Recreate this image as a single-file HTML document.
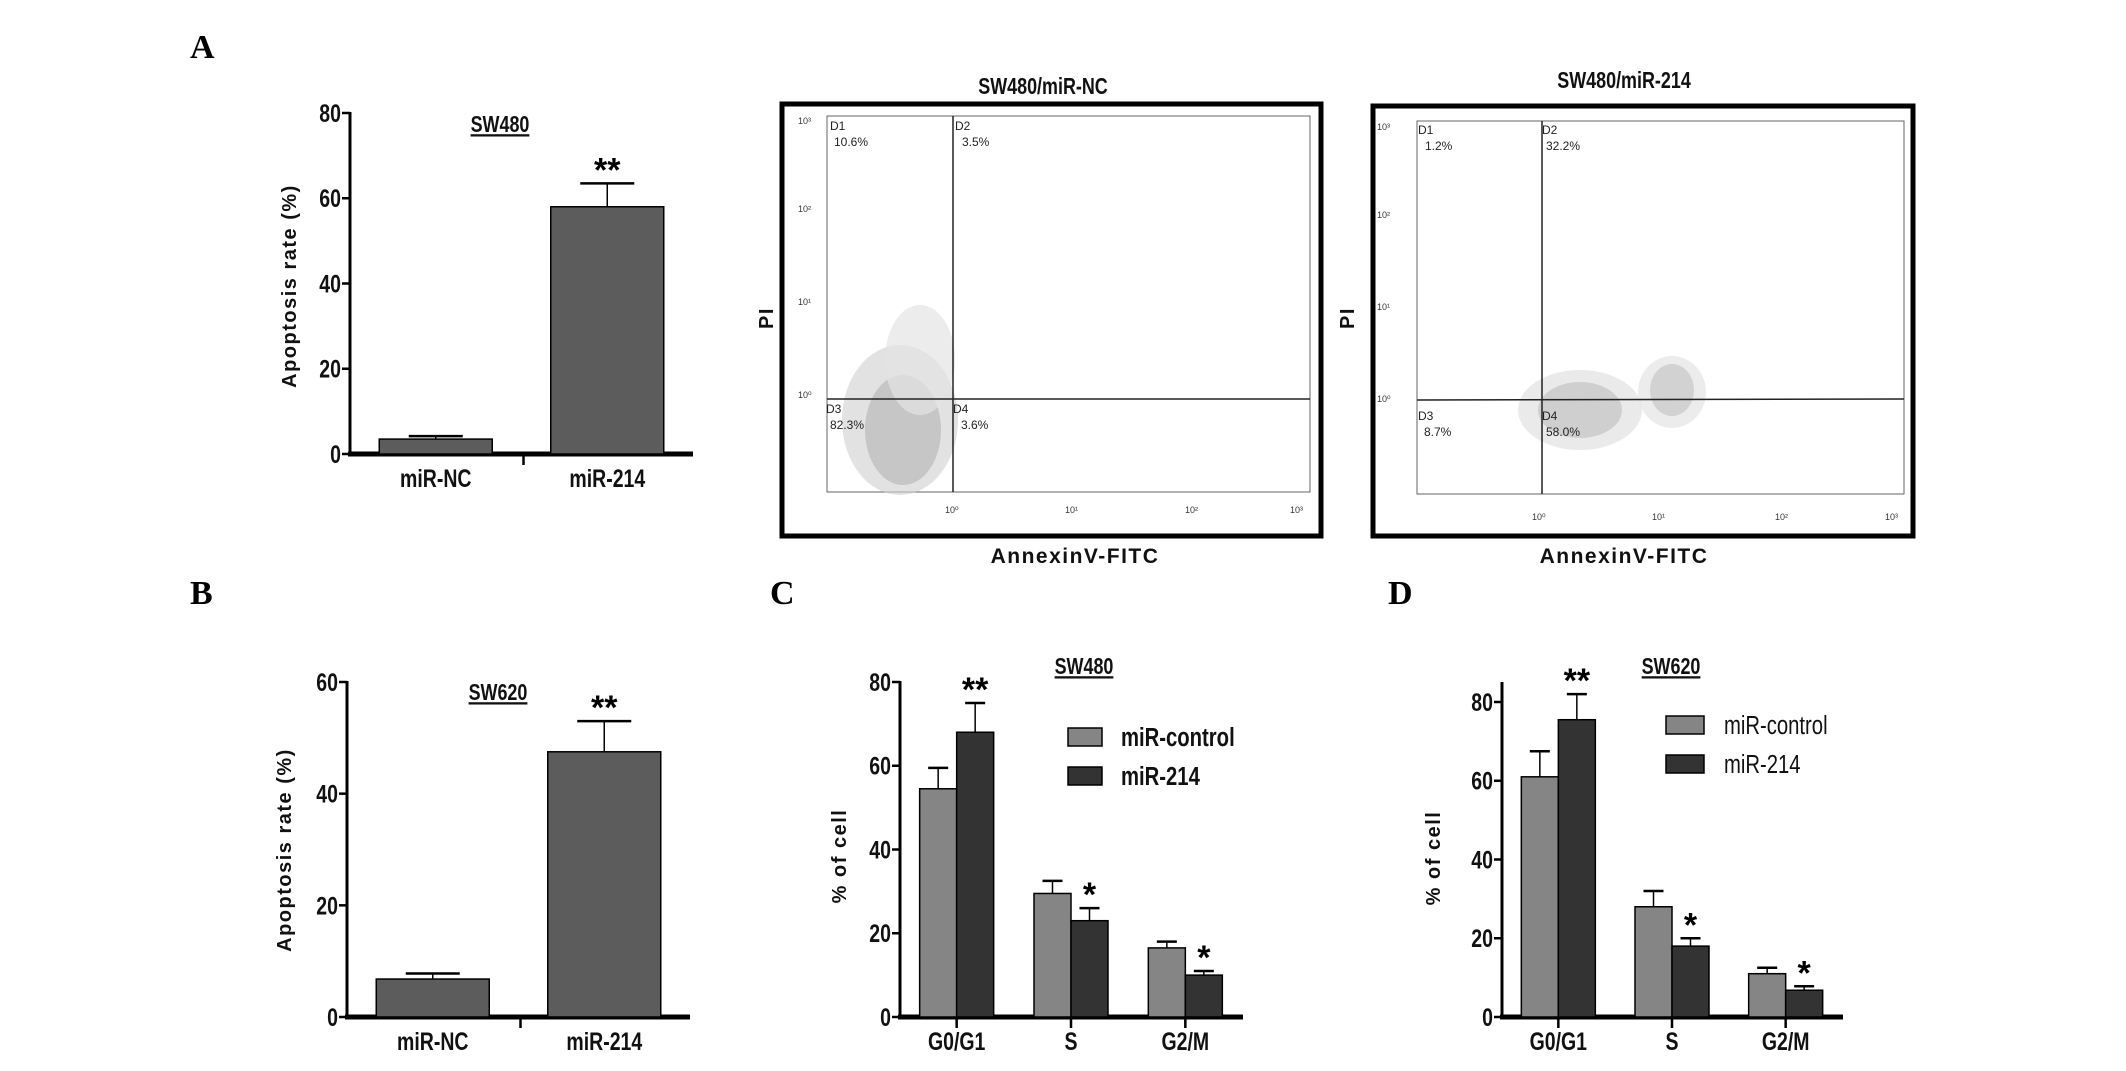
<!DOCTYPE html>
<html><head><meta charset="utf-8"><style>
body{margin:0;background:#fff}
svg{display:block}
.tk{font-family:"Liberation Sans Narrow","Liberation Sans",sans-serif;font-weight:bold;font-size:25px;fill:#111;transform-box:fill-box;transform-origin:center;transform:scaleX(0.78)}
.tkr{transform-origin:right center}
.tkl{transform-origin:left center}
.yl{font-family:"Liberation Sans",sans-serif;font-weight:bold;font-size:20px;letter-spacing:1.5px;fill:#111}
.pl{font-family:"Liberation Serif",serif;font-weight:bold;font-size:34px;fill:#000}
.ttl{font-family:"Liberation Sans",sans-serif;font-weight:bold;font-size:23px;fill:#111;text-decoration:underline;transform-box:fill-box;transform-origin:center;transform:scaleX(0.78)}
.ft{font-family:"Liberation Sans",sans-serif;font-size:12px;fill:#222}
.fs{font-family:"Liberation Sans",sans-serif;font-size:9px;fill:#333}
</style></head><body>
<svg id="fig" width="2126" height="1071" viewBox="0 0 2126 1071" xmlns="http://www.w3.org/2000/svg">
<text class="pl" x="190" y="58">A</text>
<text class="pl" x="190" y="604">B</text>
<text class="pl" x="770" y="604">C</text>
<text class="pl" x="1388" y="604">D</text>

<g>
<text class="tk" x="1043" y="94" text-anchor="middle" style="font-size:23px">SW480/miR-NC</text>
<rect x="782" y="104" width="539" height="432" fill="none" stroke="#000" stroke-width="5"/>
<rect x="827" y="116" width="483" height="376" fill="none" stroke="#666" stroke-width="1"/>
<ellipse cx="903" cy="430" rx="38" ry="55" fill="#b0b0b0" opacity="0.9"/>
<ellipse cx="900" cy="420" rx="58" ry="75" fill="#cfcfcf" opacity="0.6"/>
<ellipse cx="920" cy="360" rx="35" ry="55" fill="#e4e4e4" opacity="0.7"/>
<line x1="953" y1="116" x2="953" y2="492" stroke="#222" stroke-width="1.5"/>
<line x1="827" y1="399" x2="1310" y2="399" stroke="#222" stroke-width="1.5"/>
<text class="ft" x="830" y="130">D1</text><text class="ft" x="834" y="146">10.6%</text>
<text class="ft" x="955" y="130">D2</text><text class="ft" x="962" y="146">3.5%</text>
<text class="ft" x="826" y="413">D3</text><text class="ft" x="830" y="429">82.3%</text>
<text class="ft" x="953" y="413">D4</text><text class="ft" x="961" y="429">3.6%</text>
<text class="fs" x="798" y="124">10³</text><text class="fs" x="798" y="212">10²</text><text class="fs" x="798" y="305">10¹</text><text class="fs" x="798" y="398">10⁰</text>
<text class="fs" x="945" y="513">10⁰</text><text class="fs" x="1065" y="513">10¹</text><text class="fs" x="1185" y="513">10²</text><text class="fs" x="1290" y="513">10³</text>
<text class="yl" transform="translate(773,318) rotate(-90)" text-anchor="middle" style="font-size:20px">PI</text>
<text class="yl" x="1075" y="563" text-anchor="middle" style="font-size:21px">AnnexinV-FITC</text>
</g>
<g>
<text class="tk" x="1624" y="88" text-anchor="middle" style="font-size:23px">SW480/miR-214</text>
<rect x="1373" y="106" width="540" height="430" fill="none" stroke="#000" stroke-width="5"/>
<rect x="1417" y="121" width="487" height="373" fill="none" stroke="#666" stroke-width="1"/>
<ellipse cx="1580" cy="410" rx="42" ry="28" fill="#b5b5b5" opacity="0.9"/>
<ellipse cx="1580" cy="410" rx="62" ry="40" fill="#dcdcdc" opacity="0.6"/>
<ellipse cx="1672" cy="390" rx="22" ry="26" fill="#b8b8b8" opacity="0.9"/>
<ellipse cx="1672" cy="392" rx="34" ry="36" fill="#e0e0e0" opacity="0.6"/>
<line x1="1542" y1="121" x2="1542" y2="494" stroke="#222" stroke-width="1.5"/>
<line x1="1417" y1="400" x2="1904" y2="399" stroke="#222" stroke-width="1.5"/>
<text class="ft" x="1418" y="134">D1</text><text class="ft" x="1425" y="150">1.2%</text>
<text class="ft" x="1542" y="134">D2</text><text class="ft" x="1546" y="150">32.2%</text>
<text class="ft" x="1418" y="420">D3</text><text class="ft" x="1424" y="436">8.7%</text>
<text class="ft" x="1542" y="420">D4</text><text class="ft" x="1546" y="436">58.0%</text>
<text class="fs" x="1377" y="130">10³</text><text class="fs" x="1377" y="218">10²</text><text class="fs" x="1377" y="310">10¹</text><text class="fs" x="1377" y="402">10⁰</text>
<text class="fs" x="1532" y="520">10⁰</text><text class="fs" x="1652" y="520">10¹</text><text class="fs" x="1775" y="520">10²</text><text class="fs" x="1885" y="520">10³</text>
<text class="yl" transform="translate(1354,318) rotate(-90)" text-anchor="middle" style="font-size:20px">PI</text>
<text class="yl" x="1624" y="563" text-anchor="middle" style="font-size:21px">AnnexinV-FITC</text>
</g>
</svg>
<script>
// Panel A data
const aCats = ['miR-NC', 'miR-214'];
const aVals = [3.5, 58];
const aErr = [0.7, 5.5];
const aTicks = [0, 20, 40, 60, 80];
// Panel B data
const bCats = ['miR-NC', 'miR-214'];
const bVals = [6.8, 47.5];
const bErr = [1.0, 5.5];
const bTicks = [0, 20, 40, 60];
// Panel C data
const cCats = ['G0/G1', 'S', 'G2/M'];
const cCtrl = [54.5, 29.5, 16.5];
const cCtrlErr = [5, 3, 1.5];
const c214 = [68, 23, 10];
const c214Err = [7, 3, 1];
const cTicks = [0, 20, 40, 60, 80];
// Panel D data
const dCats = ['G0/G1', 'S', 'G2/M'];
const dCtrl = [61, 28, 11];
const dCtrlErr = [6.5, 4, 1.5];
const d214 = [75.5, 18, 6.8];
const d214Err = [6.5, 2, 1];
const dTicks = [0, 20, 40, 60, 80];
const seriesNames = ['miR-control', 'miR-214'];

const NS = 'http://www.w3.org/2000/svg';
const svg = document.getElementById('fig');
function mk(tag, at, parent) {
  const e = document.createElementNS(NS, tag);
  for (const k in at) e.setAttribute(k, at[k]);
  (parent || svg).appendChild(e);
  return e;
}
function txt(s, at, parent) { const e = mk('text', at, parent); e.textContent = s; return e; }

function chart(cfg) {
  const g = mk('g', {});
  
  
  const y = v => cfg.y0 - v / cfg.max * (cfg.y0 - cfg.yTop);
  const ax = mk('line', {x1: cfg.ax, y1: cfg.axTop, x2: cfg.ax, y2: cfg.y0 + 2, stroke: '#000', 'stroke-width': 3}, g);
  
  
  cfg.ticks.forEach(t => {
    mk('line', {x1: cfg.ax - 8, y1: y(t), x2: cfg.ax, y2: y(t), stroke: '#000', 'stroke-width': 2.5}, g);
    const tl = txt(String(t), {class: 'tk tkr', x: cfg.ax - 9, y: y(t) + 9, 'text-anchor': 'end'}, g);
    
    
  });
  const xa = mk('line', {x1: cfg.ax - 2, y1: cfg.y0, x2: cfg.axEnd, y2: cfg.y0, stroke: '#000', 'stroke-width': 5}, g);
  
  
  const yl = txt(cfg.ylabel, {class: 'yl', transform: `translate(${cfg.ylx},${cfg.yly}) rotate(-90)`, 'text-anchor': 'middle'}, g);
  
  
  const tt = txt(cfg.title, {class: 'ttl', x: cfg.tx, y: cfg.ty, 'text-anchor': 'middle'}, g);
  
  
  const n = cfg.cats.length;
  const step = (cfg.axEnd - cfg.ax) / n;
  cfg.cats.forEach((c, i) => {
    const cx = cfg.ax + step * (i + 0.5) + (cfg.shift || 0);
    const cl = txt(c, {class: 'tk', x: cx, y: cfg.y0 + 33, 'text-anchor': 'middle'}, g);
    
    
    if (cfg.groupTicks) mk('line', {x1: cx, y1: cfg.y0, x2: cx, y2: cfg.y0 + 11, stroke: '#000', 'stroke-width': 2.5}, g);
    cfg.series.forEach((s, k) => {
      const ns = cfg.series.length;
      const bx = ns === 1 ? cx - cfg.bw / 2 : cx - cfg.bw + k * cfg.bw;
      const v = s.vals[i], e = s.err[i];
      const ex = bx + cfg.bw / 2;
      mk('line', {x1: ex, y1: y(v), x2: ex, y2: y(v + e), stroke: '#000', 'stroke-width': 1.5}, g);
      mk('line', {x1: ex - (ns === 1 ? 27 : 10), y1: y(v + e), x2: ex + (ns === 1 ? 27 : 10), y2: y(v + e), stroke: '#000', 'stroke-width': 2.5}, g);
      const r = mk('rect', {x: bx, y: y(v), width: cfg.bw, height: cfg.y0 - y(v), fill: s.color, stroke: '#000', 'stroke-width': 1.5}, g);
      
      
      if (s.star && s.star[i]) {
        const st = txt(s.star[i], {x: ex, y: y(v + e) - 2, 'text-anchor': 'middle', style: 'font-size:34px;font-family:Liberation Sans;font-weight:bold'}, g);
        
        
      }
    });
  });
  if (cfg.midTick) mk('line', {x1: (cfg.ax + cfg.axEnd) / 2 + 2, y1: cfg.y0, x2: (cfg.ax + cfg.axEnd) / 2 + 2, y2: cfg.y0 + 11, stroke: '#000', 'stroke-width': 2.5}, g);
  if (cfg.legend) {
    cfg.series.forEach((s, k) => {
      const ly = cfg.legend.y + k * cfg.legend.dy;
      const lb = mk('rect', {x: cfg.legend.x, y: ly - 9, width: cfg.legend.w, height: 18, fill: s.color, stroke: '#000', 'stroke-width': 1.5}, g);
      
      
      const lt = txt(seriesNames[k], {class: 'tk tkl', x: cfg.legend.tx, y: ly + 9, style: cfg.legend.style}, g);
      
      
    });
  }
}
chart({name: 'chart-a-apoptosis-sw480', cats: aCats, ticks: aTicks, max: 80, ax: 350, axTop: 112, yTop: 113, y0: 454, axEnd: 693, bw: 113, midTick: true,
  series: [{vals: aVals, err: aErr, color: '#5c5c5c', star: ['', '**']}], ylabel: 'Apoptosis rate (%)', ylx: 296, yly: 286, title: 'SW480', tx: 500, ty: 132});
chart({name: 'chart-b-apoptosis-sw620', cats: bCats, ticks: bTicks, max: 60, ax: 347, axTop: 681, yTop: 682, y0: 1017, axEnd: 690, bw: 113, midTick: true,
  series: [{vals: bVals, err: bErr, color: '#5c5c5c', star: ['', '**']}], ylabel: 'Apoptosis rate (%)', ylx: 291, yly: 850, title: 'SW620', tx: 498, ty: 700});
chart({name: 'chart-c-cell-cycle-sw480', cats: cCats, ticks: cTicks, max: 80, ax: 900, axTop: 681, yTop: 682, y0: 1017, axEnd: 1243, bw: 37, groupTicks: true, shift: -0.5,
  series: [{vals: cCtrl, err: cCtrlErr, color: '#858585'}, {vals: c214, err: c214Err, color: '#333333', star: ['**', '*', '*']}],
  ylabel: '% of cell', ylx: 846, yly: 856, title: 'SW480', tx: 1084, ty: 674,
  legend: {x: 1068, y: 737, dy: 39, w: 34, tx: 1121, style: 'font-size:26px'}});
chart({name: 'chart-d-cell-cycle-sw620', cats: dCats, ticks: dTicks, max: 80, ax: 1502, axTop: 682, yTop: 702, y0: 1017, axEnd: 1843, bw: 37, groupTicks: true, shift: -0.5,
  series: [{vals: dCtrl, err: dCtrlErr, color: '#858585'}, {vals: d214, err: d214Err, color: '#333333', star: ['**', '*', '*']}],
  ylabel: '% of cell', ylx: 1440, yly: 858, title: 'SW620', tx: 1671, ty: 674,
  legend: {x: 1666, y: 725, dy: 39, w: 38, tx: 1724, style: 'font-size:26px;font-weight:normal'}});
</script>
</body></html>
